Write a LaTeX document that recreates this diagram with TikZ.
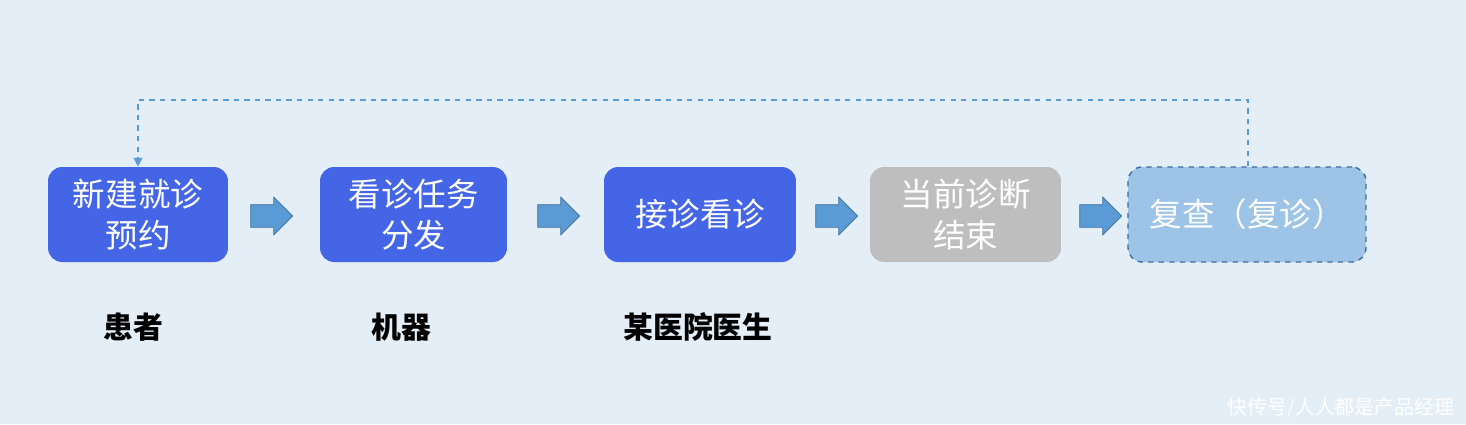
\documentclass[tikz,border=0pt]{standalone}
\usepackage{fontspec}
\setmainfont{Noto Sans CJK SC}
\usetikzlibrary{shapes.arrows,arrows.meta}
\definecolor{bgblue}{HTML}{E3EEF7}
\definecolor{stepblue}{HTML}{4466E6}
\definecolor{stepgray}{HTML}{BEBEBE}
\definecolor{lightblue}{HTML}{9DC3E6}
\definecolor{edgeblue}{HTML}{3C6E9C}
\definecolor{arrowblue}{HTML}{5B9BD5}
\tikzset{
  stage/.style={rounded corners=8pt, minimum width=3.6cm, minimum height=1.9cm, text=white,
    align=center, font=\fontsize{18.5}{23}\selectfont, inner sep=0pt},
  flow/.style={single arrow, draw=edgeblue, fill=arrowblue, minimum height=0.84cm,
    inner xsep=0pt, inner ysep=0.22cm, single arrow head extend=0.15cm},
  role/.style={font=\fontsize{17}{20}\selectfont\bfseries}
}
\begin{document}
\begin{tikzpicture}[x=0.02cm, y=-0.02cm]
  \fill[bgblue] (0,0) rectangle (1466,424);
  \useasboundingbox (0,0) rectangle (1466,424);

  \node[stage, fill=stepblue, minimum width=3.6cm] (s1) at (138,214.5) {新建就诊\\预约};
  \node[stage, fill=stepblue, minimum width=3.74cm] (s2) at (413.5,214.5) {看诊任务\\分发};
  \node[stage, fill=stepblue, minimum width=3.84cm] (s3) at (700,214.5) {接诊看诊};
  \node[stage, fill=stepgray, minimum width=3.82cm] (s4) at (965.5,214.5) {当前诊断\\结束};
  \node[stage, fill=lightblue, draw=edgeblue, dashed, line width=0.8pt, minimum width=4.76cm,
    text width=3.9cm, align=left] (s5) at (1247,214.5) {复查（复诊）};

  \foreach \x/\n in {271/a1, 558/a2, 836/a3, 1100/a4}
    \node[flow] (\n) at (\x-5,216) {};

  % feedback loop
  \coordinate (t5) at (1248,100);
  \coordinate (t1) at (138,100);
  \draw[arrowblue, dashed, line width=0.8pt, -{Triangle[length=5pt,width=5pt]}]
    (s5.north -| t5) -- (t5) -- (t1) -- (s1.north);

  \node[role] (r1) at (133,327) {患者};
  \node[role] (r2) at (401,327) {机器};
  \node[role] (r3) at (698,327) {某医院医生};

  \node[text=white, font=\fontsize{11.3}{13}\selectfont] (wm) at (1341,408) {快传号/人人都是产品经理};
\end{tikzpicture}
\end{document}
